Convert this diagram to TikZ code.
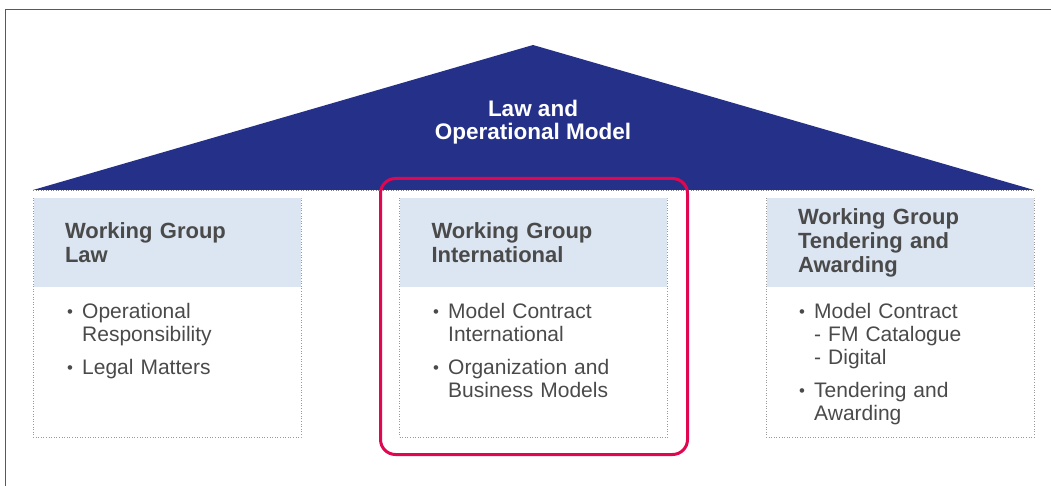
\documentclass[tikz,border=0pt]{standalone}
\usepackage{fontspec}
\setmainfont{Liberation Sans}
\definecolor{roofblue}{HTML}{253189}
\definecolor{headblue}{HTML}{DCE6F2}
\definecolor{focusred}{HTML}{E0064F}
\definecolor{textgray}{HTML}{4A4A4A}
\newcommand{\wgitem}[1]{\par\hangindent=16pt\hangafter=1\noindent\makebox[16pt][l]{\hspace{1pt}\raisebox{1pt}{\scalebox{0.8}{•}}}#1\par}
\begin{document}
\begin{tikzpicture}[x=1pt,y=-1pt,
    wgbox/.style={draw=gray!80, dotted, line width=0.6pt, minimum width=268pt, minimum height=239pt, inner sep=0pt},
    wghead/.style={fill=headblue, minimum width=267pt, minimum height=89pt, inner sep=0pt, text width=204pt, align=left,
      font=\fontsize{22}{24}\selectfont\bfseries, text=textgray},
    wgitems/.style={inner sep=0pt, text width=215pt, align=left,
      font=\fontsize{21}{23}\selectfont, text=textgray},
    rooftext/.style={align=center, text=white, font=\fontsize{22.5}{23.5}\selectfont\bfseries}]
  \useasboundingbox (0,0) rectangle (1051,486);
  % frame
  \draw[gray!70!black, line width=1pt] (5.5,486) -- (5.5,9.5) -- (1051,9.5);

  % roof
  \coordinate (roofleft) at (33,190);
  \coordinate (roofright) at (1034,190);
  \coordinate (roofapex) at (533,45);
  \fill[roofblue] (roofleft) -- (roofapex) -- (roofright) -- cycle;
  \draw[gray, dotted, line width=0.5pt] (roofleft) -- (roofright);
  \node[rooftext] (roof) at (533,122) {Law and\\Operational Model};

  % working groups
  \node[wgbox] (law) at (167,317.5) {};
  \node[wgbox] (intl) at (533.5,317.5) {};
  \node[wgbox] (tender) at (900,317.5) {};

  \node[wghead, anchor=north] (lawhead) at ([yshift=-0.5pt]law.north) {Working Group\\Law};
  \node[wghead, anchor=north] (intlhead) at ([yshift=-0.5pt]intl.north) {Working Group\\International};
  \node[wghead, anchor=north] (tenderhead) at ([yshift=-0.5pt]tender.north) {Working Group\\Tendering and\\Awarding};

  \node[wgitems, anchor=north west] (lawitems) at (66,295.5) {%
    \wgitem{Operational\newline Responsibility}\vspace{9.5pt}
    \wgitem{Legal Matters}};
  \node[wgitems, anchor=north west] (intlitems) at (432,295.5) {%
    \wgitem{Model Contract\newline International}\vspace{9.5pt}
    \wgitem{Organization and\newline Business Models}};
  \node[wgitems, anchor=north west] (tenderitems) at (798,295.5) {%
    \wgitem{Model Contract\newline - FM Catalogue\newline - Digital}\vspace{9.5pt}
    \wgitem{Tendering and\newline Awarding}};

  % highlight
  \node[draw=focusred, line width=3pt, rounded corners=15pt, minimum width=307pt, minimum height=276pt] (focus) at (534,316.5) {};
\end{tikzpicture}
\end{document}
